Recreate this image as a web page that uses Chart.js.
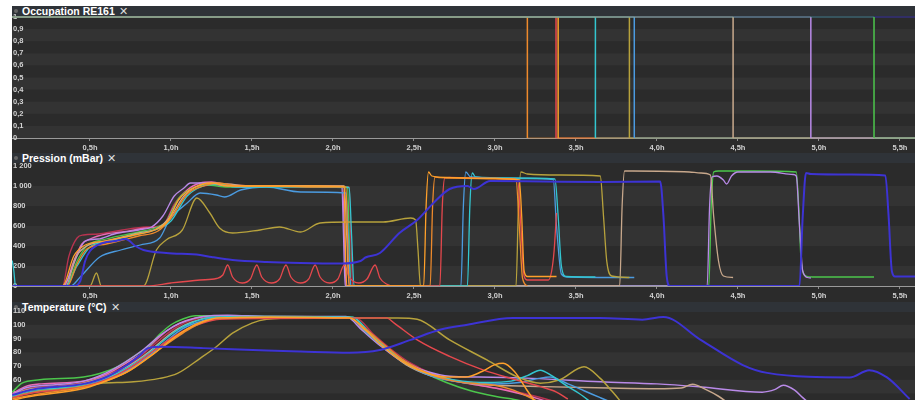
<!DOCTYPE html>
<html><head><meta charset="utf-8">
<script src="https://cdn.jsdelivr.net/npm/chart.js@4.4.1/dist/chart.umd.min.js"></script>
<style>
html,body{margin:0;padding:0;background:#fff;width:918px;height:400px;overflow:hidden}
#wrap{position:absolute;left:12px;top:6px;width:903px;height:394px;background:#2b2b2b;overflow:hidden}
.hdr{position:absolute;left:0;width:903px;height:10px;background:#2f3338}
.ttl{position:absolute;left:10px;top:-1px;font:bold 10.5px "Liberation Sans",Arial,sans-serif;color:#fff;line-height:12px;white-space:nowrap}
.ttl span{font-weight:normal;color:#ddd;margin-left:4px}
.dot{position:absolute;left:2px;top:3px;width:4px;height:4px;border-radius:2px;background:#666}
canvas{position:absolute;left:0}
</style></head><body>
<div id="wrap">
 <div class="hdr" style="top:0"><div class="dot"></div><div class="ttl">Occupation RE161<span>✕</span></div></div>
 <div class="hdr" style="top:147px"><div class="dot"></div><div class="ttl">Pression (mBar)<span>✕</span></div></div>
 <div class="hdr" style="top:296px"><div class="dot"></div><div class="ttl">Temperature (°C)<span>✕</span></div></div>
 <canvas id="c1" width="903" height="151" style="top:1px"></canvas>
 <canvas id="c2" width="903" height="150" style="top:150px"></canvas>
 <canvas id="c3" width="903" height="140" style="top:295px"></canvas>
</div>
<script>
// ---- axes ----
const xMin = 0.0185, xMax = 5.593;
const xTickVals = [0.5,1,1.5,2,2.5,3,3.5,4,4.5,5,5.5];
const xTickLabels = ['0,5h','1,0h','1,5h','2,0h','2,5h','3,0h','3,5h','4,0h','4,5h','5,0h','5,5h'];
const occTickVals = [0,0.1,0.2,0.3,0.4,0.5,0.6,0.7,0.8,0.9,1];
const occTickLabels = ['0','0,1','0,2','0,3','0,4','0,5','0,6','0,7','0,8','0,9','1'];
const presTickVals = [0,200,400,600,800,1000,1200];
const presTickLabels = ['0','200','400','600','800','1 000','1 200'];
const tempTickVals = [30,40,50,60,70,80,90,100,110];
const tempTickLabels = ['30','40','50','60','70','80','90','100','110'];

// ---- series colours ----
const cNavy='#3d33d4', cOrangeB='#ffa02a', cOrangeC='#ee8a2c', cRedD='#e5484d', cCyanE='#33c6d0',
      cOliveF='#b7a23c', cBlueG='#4b9be0', cTanH='#c8a88c', cPurpleI='#b98ae8', cGreenJ='#4cc64c',
      cPinkK='#ea6cb6', cMaroonL='#b93350';

// ---- occupancy: time (h) at which each series leaves 1 for 0 ----
const occOrder  = ['greenJ','purpleI','tanH','blueG','oliveF','cyanE','orangeB','redD','orangeC','navy'];
const occDrop   = [5.34, 4.95, 4.47, 3.86, 3.83, 3.62, 3.39, 3.377, 3.20, null];

// ---- pressure (h, mbar) ----
const presNavy=[[0.02,0],[0.4,0],[0.44,50],[0.47,250],[0.5,350],[0.58,430],[0.66,450],[0.72,470],[0.78,400],[0.83,360],[0.97,330],[1.18,310],[1.25,290],[1.38,260],[1.59,240],[1.8,230],[2.05,225],[2.17,250],[2.2,285],[2.29,330],[2.41,530],[2.52,660],[2.62,830],[2.72,970],[2.83,1000],[2.87,970],[2.97,1050],[3.3,1045],[3.65,1040],[4.02,1045],[4.04,700],[4.06,100],[4.08,0],[4.88,0],[4.9,700],[4.92,1130],[4.95,1120],[5.2,1115],[5.41,1105],[5.43,700],[5.45,150],[5.47,95],[5.6,95]];
const presOrangeB=[[0.02,0],[0.33,0],[0.4,300],[0.46,400],[0.6,450],[0.8,520],[0.9,560],[0.98,650],[1.05,870],[1.15,990],[1.25,1030],[1.35,1000],[1.6,1000],[1.9,1000],[2.07,995],[2.075,500],[2.085,0],[2.56,0],[2.575,800],[2.59,1140],[2.61,1100],[2.7,1085],[3.0,1075],[3.15,1060],[3.165,700],[3.18,150],[3.2,95],[3.38,95]];
const presOrangeC=[[0.02,0],[0.36,0],[0.42,220],[0.48,370],[0.6,420],[0.8,500],[0.92,550],[1.0,680],[1.1,920],[1.2,1000],[1.3,1030],[1.4,1000],[1.6,1000],[1.9,990],[2.08,990],[2.09,500],[2.1,0],[2.6,0],[2.615,800],[2.63,1090],[2.66,1085],[3.0,1075],[3.13,1065],[3.15,600],[3.17,80],[3.2,0]];
const presRedD=[[0.02,0],[0.85,0],[1.0,30],[1.18,60],[1.28,75],[1.32,110],[1.35,210],[1.38,90],[1.44,30],[1.49,70],[1.53,210],[1.56,90],[1.62,30],[1.67,70],[1.71,210],[1.74,90],[1.8,30],[1.85,70],[1.89,210],[1.92,90],[1.98,30],[2.03,70],[2.07,210],[2.1,90],[2.16,30],[2.21,70],[2.26,210],[2.29,80],[2.33,20],[2.38,0],[2.66,0],[2.675,800],[2.69,1080],[2.72,1085],[3.0,1075],[3.14,1060],[3.16,600],[3.18,100],[3.2,60],[3.33,60],[3.35,150],[3.365,350],[3.38,730]];
const presCyanE=[[0.02,255],[0.03,150],[0.04,0],[0.35,0],[0.42,200],[0.5,390],[0.6,440],[0.8,520],[0.9,560],[1.0,650],[1.1,900],[1.2,1000],[1.3,1020],[1.4,990],[1.6,990],[1.9,990],[2.1,985],[2.115,500],[2.13,0],[2.83,0],[2.845,800],[2.86,1130],[2.88,1090],[3.1,1080],[3.37,1070],[3.39,700],[3.41,200],[3.44,95],[3.62,90]];
const presOliveF=[[0.02,0],[0.5,0],[0.54,130],[0.57,0],[0.83,0],[0.91,360],[0.97,460],[1.07,560],[1.16,880],[1.24,730],[1.3,580],[1.38,530],[1.55,560],[1.67,590],[1.8,540],[1.92,630],[2.1,640],[2.31,640],[2.48,680],[2.51,660],[2.525,360],[2.54,0],[3.13,0],[3.145,800],[3.16,1140],[3.2,1120],[3.4,1110],[3.65,1100],[3.67,700],[3.69,250],[3.72,100],[3.83,85]];
const presBlueG=[[0.02,0],[0.38,0],[0.44,90],[0.56,290],[0.69,360],[0.81,410],[0.93,480],[0.99,660],[1.1,830],[1.18,930],[1.28,910],[1.33,890],[1.43,960],[1.59,990],[1.8,940],[2.08,930],[2.095,500],[2.11,0],[2.79,0],[2.805,800],[2.82,1140],[2.85,1090],[3.2,1075],[3.36,1065],[3.38,600],[3.41,120],[3.45,90],[3.86,85]];
const presTanH=[[0.02,0],[0.35,0],[0.41,280],[0.47,390],[0.6,450],[0.8,530],[0.92,580],[1.0,700],[1.08,900],[1.15,990],[1.25,1030],[1.35,1020],[1.5,1000],[1.9,1000],[2.07,1000],[2.085,500],[2.1,0],[3.77,0],[3.785,800],[3.8,1150],[3.85,1150],[4.2,1140],[4.27,1130],[4.33,1110],[4.35,700],[4.38,250],[4.41,100],[4.47,85]];
const presPurpleI=[[0.02,0],[0.33,0],[0.36,60],[0.42,300],[0.47,450],[0.55,470],[0.65,520],[0.8,560],[0.88,590],[0.95,700],[1.02,900],[1.08,980],[1.12,1030],[1.2,1030],[1.3,1010],[1.45,990],[1.6,1000],[1.8,1000],[2.0,990],[2.055,990],[2.065,500],[2.075,0],[4.31,0],[4.325,800],[4.34,1090],[4.37,1100],[4.41,1060],[4.43,1020],[4.46,1100],[4.5,1140],[4.7,1140],[4.84,1115],[4.86,1100],[4.88,600],[4.9,150],[4.93,85],[4.95,80]];
const presGreenJ=[[0.02,0],[0.35,0],[0.42,250],[0.48,400],[0.6,470],[0.8,540],[0.9,580],[0.97,640],[1.05,880],[1.15,990],[1.22,1010],[1.35,990],[1.5,1000],[1.8,1000],[2.05,990],[2.09,990],[2.1,500],[2.11,0],[4.32,0],[4.335,800],[4.35,1140],[4.38,1150],[4.6,1150],[4.86,1140],[4.875,800],[4.89,250],[4.92,100],[4.96,90],[5.34,90]];
const presPinkK=[[0.02,0],[0.34,0],[0.4,250],[0.45,420],[0.5,470],[0.6,520],[0.7,540],[0.85,580],[0.95,600],[1.02,800],[1.1,960],[1.18,1030],[1.25,1040],[1.35,1010],[1.5,1000],[1.8,1000],[2.05,995],[2.06,995],[2.07,500],[2.08,0]];
const presMaroonL=[[0.02,0],[0.33,0],[0.37,300],[0.42,480],[0.46,510],[0.55,520],[0.7,560],[0.85,590],[0.95,610],[1.02,820],[1.1,960],[1.2,1000],[1.3,1020],[1.5,1000],[1.9,1000],[2.1,990],[2.11,500],[2.12,0]];

// ---- temperature (h, °C) ----
const tempNavy=[[0.02,49],[0.15,53],[0.46,57],[0.6,62],[0.72,70],[0.8,77],[0.86,83],[0.95,84],[1.2,83],[1.38,82.2],[1.59,81.2],[1.8,80.5],[2.1,79.7],[2.29,81.7],[2.48,89],[2.66,96.3],[2.83,100],[3.11,104.9],[3.65,104.9],[3.91,103.7],[4.04,105.6],[4.27,89],[4.53,70.7],[4.68,65],[5.19,61.7],[5.31,67],[5.42,61.7],[5.56,46]];
const tempGreenJ=[[0.02,51],[0.08,57.5],[0.19,60],[0.46,62],[0.56,64.6],[0.67,69.5],[0.77,76.8],[0.87,85.4],[0.93,93],[1.0,100],[1.07,104],[1.15,106.5],[1.3,106.5],[1.6,106],[2.12,105.5],[2.22,94],[2.32,84],[2.42,75],[2.55,66],[2.7,58],[2.85,52],[3.0,48],[3.15,45],[3.3,41]];
const tempPinkK=[[0.02,50],[0.1,55],[0.2,57],[0.46,59],[0.6,64],[0.75,74],[0.83,80],[0.9,88],[0.98,96],[1.05,101],[1.15,105],[1.25,106.5],[1.6,106],[2.1,105.5],[2.2,95],[2.3,85],[2.42,75],[2.55,67],[2.7,61],[2.85,57],[3.0,54],[3.15,50],[3.3,45],[3.4,41]];
const tempMaroonL=[[0.02,48],[0.1,53],[0.3,55.5],[0.46,58],[0.6,63],[0.75,72],[0.85,81],[0.95,91],[1.03,98],[1.12,103],[1.22,105.5],[1.6,105.5],[2.14,105],[2.25,93],[2.36,82],[2.48,72],[2.62,64],[2.8,58],[2.95,55],[3.1,52],[3.25,48],[3.4,43]];
const tempPurpleI=[[0.02,49],[0.1,54],[0.3,56.5],[0.46,59],[0.6,65],[0.72,73],[0.83,82],[0.93,92],[1.02,99],[1.1,103],[1.2,106],[1.35,107],[1.6,106],[2.08,106],[2.18,96],[2.3,84],[2.43,73],[2.58,66],[2.72,62.5],[2.9,62],[3.23,61],[3.65,58.5],[4.0,57],[4.27,54.8],[4.65,51],[4.73,53],[4.78,56],[4.85,52.4],[4.9,47],[4.95,42]];
const tempCyanE=[[0.02,48],[0.12,52],[0.3,54],[0.46,56.5],[0.6,61],[0.75,70],[0.87,80],[0.97,90],[1.05,97],[1.14,102],[1.25,105.5],[1.5,106],[2.12,105.5],[2.22,95],[2.33,83],[2.46,72],[2.6,64],[2.8,59],[2.95,58],[3.1,59],[3.2,63],[3.28,67],[3.35,63],[3.45,55],[3.52,50],[3.6,43]];
const tempBlueG=[[0.02,47],[0.12,51],[0.3,53],[0.46,55.5],[0.6,60],[0.75,68],[0.88,79],[0.98,89],[1.07,97],[1.17,102],[1.27,105],[1.6,105.5],[2.1,105],[2.21,94],[2.33,82],[2.46,71],[2.6,63],[2.8,58],[3.0,57],[3.15,58],[3.27,61],[3.34,62],[3.45,57],[3.55,52],[3.65,47],[3.75,42]];
const tempTanH=[[0.02,49],[0.12,53],[0.3,55],[0.46,57.5],[0.6,62.5],[0.75,71],[0.86,80],[0.96,90],[1.04,97],[1.13,102],[1.23,105],[1.6,105.5],[2.1,105.5],[2.2,95],[2.32,83],[2.45,71],[2.6,63],[2.8,58],[3.0,56],[3.3,55],[3.7,54],[4.0,53.5],[4.15,54],[4.22,56.8],[4.3,53],[4.38,48],[4.45,42]];
const tempOrangeB=[[0.02,45],[0.11,47.5],[0.46,53.6],[0.56,57.5],[0.73,65.8],[0.87,76.8],[1.0,89],[1.1,97],[1.2,102.5],[1.3,105],[1.6,105.5],[2.1,105],[2.2,96],[2.3,85],[2.42,74],[2.55,66],[2.7,62],[2.82,62],[2.92,66],[3.0,71],[3.05,72],[3.12,66],[3.2,52],[3.26,42]];
const tempOrangeC=[[0.02,46],[0.15,49],[0.46,54.5],[0.6,59],[0.75,67],[0.88,78],[1.0,88],[1.1,96],[1.2,102],[1.3,105],[1.6,105.5],[2.1,105],[2.2,97],[2.32,85],[2.45,73],[2.6,64],[2.75,59],[2.9,57],[3.0,56],[3.1,53],[3.2,48],[3.3,42]];
const tempRedD=[[0.02,47],[0.15,50.5],[0.46,55],[0.6,60],[0.75,69],[0.88,80],[1.0,90],[1.1,97],[1.2,101.5],[1.3,104],[1.6,104.5],[2.33,105],[2.38,101],[2.52,89],[2.72,77],[2.93,67],[3.13,60],[3.28,55],[3.38,51],[3.45,46]];
const tempOliveF=[[0.02,48],[0.2,52],[0.41,54.8],[0.56,57.3],[0.77,58.5],[0.93,61],[1.04,64.6],[1.18,75.6],[1.28,84],[1.38,93.9],[1.5,101.2],[1.59,104],[1.8,105],[2.4,105],[2.52,104],[2.72,89],[2.95,74.4],[3.14,62],[3.28,57.5],[3.4,60],[3.55,69.5],[3.65,61],[3.72,52],[3.77,45],[3.8,40]];

// ---- helpers ----
const stripes = {
  id:'stripes',
  beforeDraw(chart){
    const {ctx, chartArea:a, scales:{y}} = chart;
    const t = y.ticks.map(k=>k.value).sort((p,q)=>q-p);
    ctx.save();
    ctx.fillStyle = '#333333';
    for(let i=0;i<t.length-1;i++){
      if(i%2===1){
        const y1=y.getPixelForValue(t[i]), y2=y.getPixelForValue(t[i+1]);
        ctx.fillRect(a.left, y1, a.right-a.left, y2-y1);
      }
    }
    ctx.restore();
  }
};
function hexA(hex, a){
  const n=parseInt(hex.slice(1),16);
  return `rgba(${n>>16},${(n>>8)&255},${n&255},${a})`;
}
function ds(pts, color, width, smooth){
  return {data: pts.map(p=>({x:p[0], y:p[1]})), borderColor: color, borderWidth: width,
          pointRadius:0, fill:false, tension: smooth?0.4:0,
          cubicInterpolationMode: smooth?'monotone':'default'};
}
function stepDs(pts, color, width){
  const d = ds(pts, color, width, false);
  d.clip = false;
  d.segment = {borderColor: c => c.p0.parsed.y === c.p1.parsed.y ? hexA(color, 0.35) : color};
  return d;
}
const yFont = {family:'Liberation Sans', size:7.5, weight:'bold'};
const xFont = {family:'Liberation Sans', size:7.5, weight:'bold'};
function makeChart(id, datasets, yMin, yMax, yVals, yLabels){
  return new Chart(document.getElementById(id), {
    type:'line',
    data:{datasets},
    options:{
      responsive:false, animation:false, devicePixelRatio:1, events:[],
      layout:{padding:{top:10,left:0,right:0,bottom:0}},
      plugins:{legend:{display:false}, tooltip:{enabled:false}, title:{display:false}},
      scales:{
        x:{type:'linear', min:xMin, max:xMax,
           afterBuildTicks:s=>{s.ticks = xTickVals.map(v=>({value:v}));},
           afterFit:s=>{s.height = 20;},
           ticks:{callback:v=>xTickLabels[xTickVals.indexOf(v)], color:'#d2d2d2', font:xFont, padding:2, maxRotation:0, autoSkip:false},
           grid:{drawOnChartArea:false, drawTicks:true, tickLength:3, color:'#8c8c8c'},
           border:{display:true, color:'#9a9a9a', width:1}},
        y:{type:'linear', min:yMin, max:yMax,
           afterBuildTicks:s=>{s.ticks = yVals.map(v=>({value:v}));},
           afterFit:s=>{s.width = 0;},
           ticks:{mirror:true, padding:1, callback:v=>yLabels[yVals.indexOf(v)], color:'#d2d2d2', font:yFont},
           grid:{display:false}, border:{display:false}}
      }
    },
    plugins:[stripes]
  });
}

// occupancy: step datasets built from drop times
const occColor = {navy:cNavy, orangeC:cOrangeC, redD:cRedD, orangeB:cOrangeB, cyanE:cCyanE, oliveF:cOliveF, blueG:cBlueG, tanH:cTanH, purpleI:cPurpleI, greenJ:cGreenJ};
const occSets = occOrder.map((k,i)=>{
  const d = occDrop[i];
  const pts = d===null ? [[xMin,1],[xMax,1]] : [[xMin,1],[d,1],[d,0],[xMax,0]];
  return stepDs(pts, occColor[k], k==='navy'?2:1.5);
});
makeChart('c1', occSets, 0, 1, occTickVals, occTickLabels);

makeChart('c2', [
  ds(presNavy,cNavy,2,true), ds(presOrangeB,cOrangeB,1.3,true), ds(presOrangeC,cOrangeC,1.3,true),
  ds(presRedD,cRedD,1.3,true), ds(presCyanE,cCyanE,1.3,true), ds(presOliveF,cOliveF,1.3,true),
  ds(presBlueG,cBlueG,1.3,true), ds(presTanH,cTanH,1.3,true), ds(presPurpleI,cPurpleI,1.3,true),
  ds(presGreenJ,cGreenJ,1.3,true), ds(presPinkK,cPinkK,1.3,true), ds(presMaroonL,cMaroonL,1.3,true)
], 0, 1200, presTickVals, presTickLabels);

makeChart('c3', [
  ds(tempNavy,cNavy,2,true), ds(tempOrangeB,cOrangeB,1.5,true), ds(tempOrangeC,cOrangeC,1.5,true),
  ds(tempRedD,cRedD,1.5,true), ds(tempCyanE,cCyanE,1.5,true), ds(tempOliveF,cOliveF,1.5,true),
  ds(tempBlueG,cBlueG,1.5,true), ds(tempTanH,cTanH,1.5,true), ds(tempPurpleI,cPurpleI,1.5,true),
  ds(tempGreenJ,cGreenJ,1.5,true), ds(tempPinkK,cPinkK,1.5,true), ds(tempMaroonL,cMaroonL,1.5,true)
], 30, 110, tempTickVals, tempTickLabels);
</script>
</body></html>
